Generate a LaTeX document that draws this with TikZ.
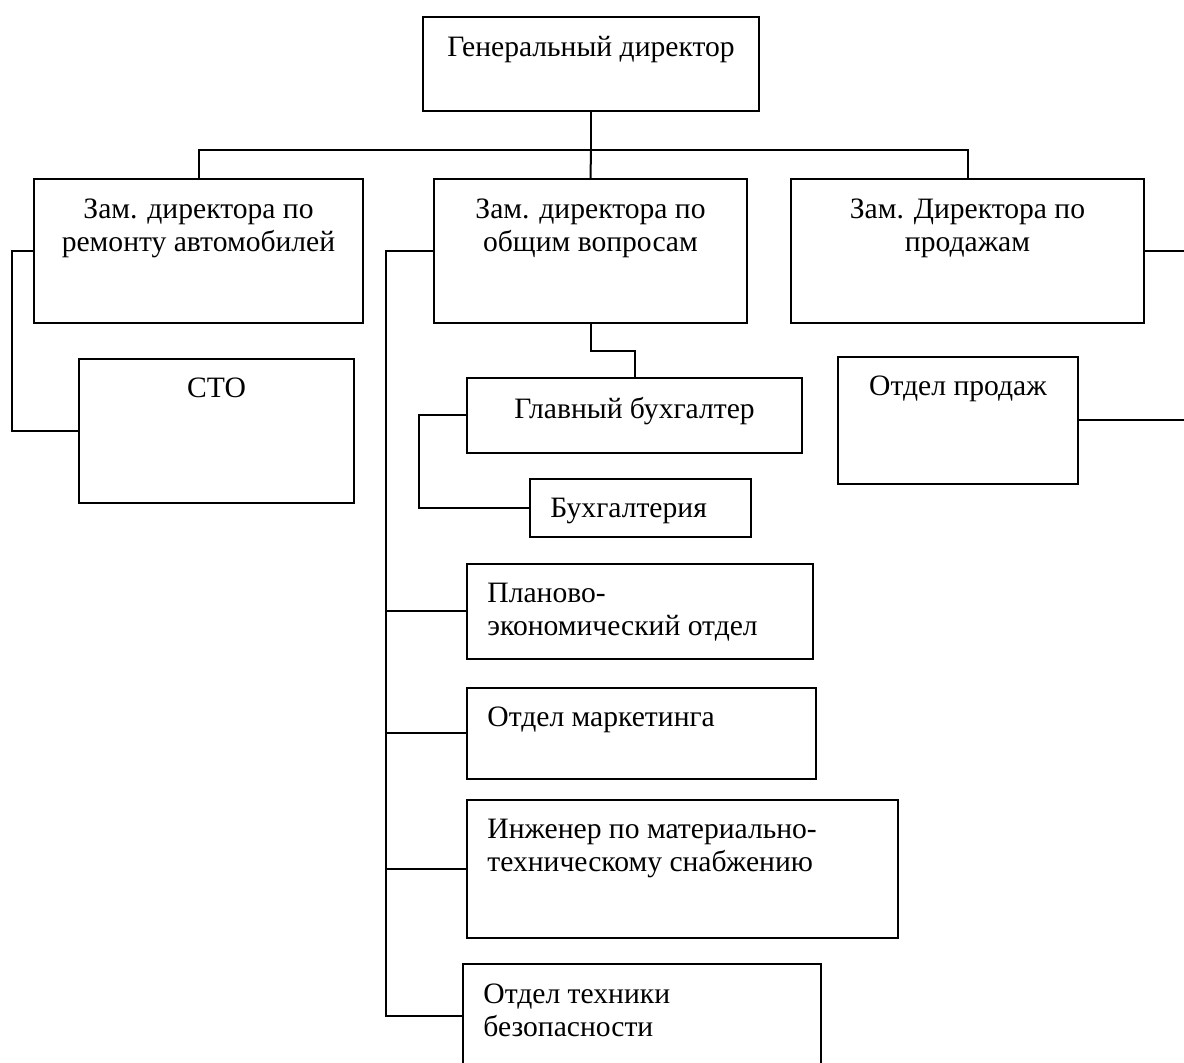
\documentclass[tikz,border=0pt]{standalone}
\usepackage{fontspec}
\setmainfont{Liberation Serif}
\usetikzlibrary{positioning}

\begin{document}
\begin{tikzpicture}[
  x=0.5pt, y=-0.5pt,
  font=\fontsize{14.8pt}{16.5pt}\selectfont,
  box/.style n args={2}{
    draw,
    line width=1pt,
    anchor=north west,
    inner sep=0pt,
    minimum width=#1*0.5pt,
    minimum height=#2*0.5pt
  },
  ctext/.style={align=center, inner sep=0pt, anchor=north},
  ltext/.style={align=left, inner sep=0pt, anchor=north west},
  link/.style={line width=1pt}
]
\clip (0,0) rectangle (1184,1063);

% boxes
\node[box={336}{94}] (gen) at (422,16) {};
\node[box={329}{144}] (zrep) at (33,178) {};
\node[box={313}{144}] (zgen) at (433,178) {};
\node[box={353}{144}] (zsal) at (790,178) {};
\node[box={275}{144}] (sto) at (78,358) {};
\node[box={335}{75}] (glav) at (466,377) {};
\node[box={221}{58}] (buh) at (529,478) {};
\node[box={240}{127}] (sales) at (837,356) {};
\node[box={346}{95}] (plan) at (466,563) {};
\node[box={349}{91}] (mark) at (466,687) {};
\node[box={431}{138}] (eng) at (466,799) {};
\node[box={358}{104}] (safe) at (462,963) {};

% texts
\node[ctext, below=10pt of gen.north] (gen-t) {Генеральный директор};
\node[ctext, below=10pt of zrep.north] (zrep-t) {Зам. директора по\\ремонту автомобилей};
\node[ctext, below=10pt of zgen.north] (zgen-t) {Зам. директора по\\общим вопросам};
\node[ctext, below=10pt of zsal.north] (zsal-t) {Зам. Директора по\\продажам};
\node[ctext, below=10pt of sto.north] (sto-t) {СТО};
\node[ctext, below=10pt of glav.north] (glav-t) {Главный бухгалтер};
\node[ctext, below=10pt of sales.north] (sales-t) {Отдел продаж};
\node[ltext, below right=10pt and 10.5pt of buh.north west] (buh-t) {Бухгалтерия};
\node[ltext, below right=10pt and 10.5pt of plan.north west] (plan-t) {Планово-\\экономический отдел};
\node[ltext, below right=10pt and 10.5pt of mark.north west] (mark-t) {Отдел маркетинга};
\node[ltext, below right=10pt and 10.5pt of eng.north west] (eng-t) {Инженер по материально-\\техническому снабжению};
\node[ltext, below right=10pt and 10.5pt of safe.north west] (safe-t) {Отдел техники\\безопасности};

% connectors
\draw[link] (gen.south) -- ++(0,38) coordinate (bus);
\draw[link] (zrep.north) |- (bus) -| (zsal.north);
\draw[link] (bus) -- (zgen.north);
\draw[link] (zrep.west) -- ++(-21,0) |- (sto.west);
\draw[link] (zsal.east) -- ++(60,0);
\draw[link] (sales.east) -- ++(120,0);
\draw[link] (zgen.south) -- ++(0,27) -| (glav.north);
\draw[link] (glav.west) -- ++(-47,0) |- (buh.west);
\draw[link] (zgen.west) -- ++(-47,0) coordinate (spine) |- (safe.west);
\foreach \n in {plan,mark,eng}
  \draw[link] (spine |- \n.west) -- (\n.west);
\end{tikzpicture}
\end{document}
